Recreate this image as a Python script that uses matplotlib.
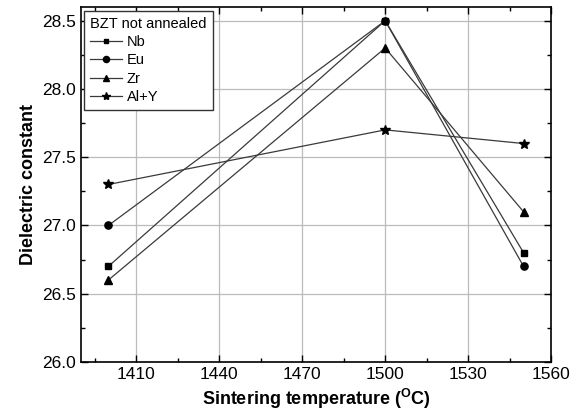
import matplotlib
matplotlib.use("Agg")
import matplotlib.pyplot as plt
from matplotlib.ticker import MultipleLocator

plt.rcParams["font.family"] = ["Liberation Sans", "DejaVu Sans"]

temperaturas = [1400, 1500, 1550]
nb = [26.7, 28.5, 26.8]
eu = [27.0, 28.5, 26.7]
zr = [26.6, 28.3, 27.1]
al_y = [27.3, 27.7, 27.6]

series = [
    ("Nb", nb, "s", 4.2),
    ("Eu", eu, "o", 5.2),
    ("Zr", zr, "^", 5.2),
    ("Al+Y", al_y, "*", 7),
]

fig = plt.figure(figsize=(5.73, 4.15), dpi=100)
ax = fig.add_axes([0.141, 0.128, 0.821, 0.855])

for nome, valores, marcador, tam in series:
    ax.plot(temperaturas, valores, color="#3a3a3a", lw=0.9,
            marker=marcador, markersize=tam, markerfacecolor="black",
            markeredgecolor="black", label=nome)

ax.set_xlim(1390, 1560)
ax.set_ylim(26.0, 28.6)
ax.xaxis.set_minor_locator(MultipleLocator(15))
ax.yaxis.set_major_locator(MultipleLocator(0.5))
ax.yaxis.set_minor_locator(MultipleLocator(0.25))
ax.set_xticks([1410, 1440, 1470, 1500, 1530, 1560])
ax.yaxis.set_major_formatter(plt.FormatStrFormatter("%.1f"))

ax.tick_params(which="both", direction="in", top=True, right=True,
               labelsize=12.5, width=1)
ax.tick_params(which="major", length=5)
ax.tick_params(which="minor", length=3)
ax.grid(True, which="major", color="#bbbbbb", lw=0.9)
for lado in ax.spines.values():
    lado.set_linewidth(1.2)

ax.set_xlabel("Sintering temperature ($\\mathregular{^{O}}$C)",
              fontsize=13, fontweight="bold")
ax.set_ylabel("Dielectric constant", fontsize=13, fontweight="bold")

leg = ax.legend(title="BZT not annealed", loc="upper left", fontsize=10.5,
                title_fontsize=10.5, fancybox=False, edgecolor="#333333",
                framealpha=1, handlelength=2.2, borderpad=0.4,
                labelspacing=0.3, handletextpad=0.3, borderaxespad=0.25,
                markerscale=0.85)
leg._legend_box.align = "left"
leg.get_frame().set_linewidth(1.0)

fig.savefig("out.png", dpi=100)
